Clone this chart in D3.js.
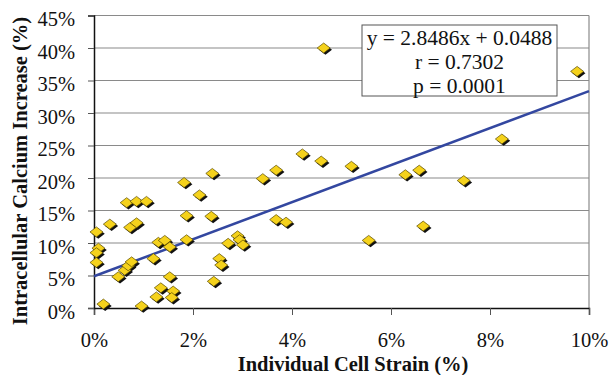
<!DOCTYPE html>
<html><head><meta charset="utf-8">
<script src="https://cdn.jsdelivr.net/npm/d3@7"></script>
<style>body{margin:0;background:#fff}svg{display:block}</style>
</head><body>
<svg id="c" width="611" height="375"></svg>
<script>
// strain (%) and calcium increase (%)
const strain = [0.05,0.32,0.66,0.86,1.06,0.73,0.86,0.09,0.05,0.05,0.19,0.96,0.49,0.62,0.69,0.76,1.2,1.30,1.43,1.53,1.53,1.35,1.6,1.26,1.57,1.82,1.87,1.87,2.13,2.39,2.37,2.71,2.9,2.94,3.01,2.53,2.57,2.42,3.41,3.68,4.21,3.68,3.88,4.64,4.59,5.2,6.29,6.57,5.55,6.65,9.76,8.24,7.47];
const calcium = [11.7,12.9,16.2,16.4,16.4,12.4,13.1,9.2,8.5,7.0,0.6,0.3,4.8,5.8,6.5,7.1,7.6,10.1,10.4,9.4,4.8,3.1,2.6,1.7,1.6,19.3,14.2,10.5,17.4,20.7,14.1,9.95,11.1,10.5,9.7,7.6,6.6,4.1,19.9,21.2,23.7,13.6,13.2,40.0,22.6,21.8,20.5,21.2,10.4,12.6,36.4,26.0,19.6];
const slope = 2.8486, intercept = 0.0488;
const xTicks = [0,2,4,6,8,10];
const yTicks = [0,5,10,15,20,25,30,35,40,45];
const statLines = ["y = 2.8486x + 0.0488","r = 0.7302","p = 0.0001"];
const xTitle = "Individual Cell Strain (%)";
const yTitle = "Intracellular Calcium Increase (%)";

const svg = d3.select("#c");
const L=94, R=589, T=15.5, B=308;
const x = d3.scaleLinear().domain([0,10]).range([L,R]);
const y = d3.scaleLinear().domain([0,45]).range([B,T]);
const font = "'Liberation Serif','Times New Roman',serif";

// gridlines
svg.append("g").selectAll("line").data(yTicks.filter(d=>d>0)).join("line")
  .attr("x1",L).attr("x2",R).attr("y1",d=>y(d)).attr("y2",d=>y(d))
  .attr("stroke","#8a8a8a").attr("stroke-width",1.2);
// right border
svg.append("line").attr("x1",R).attr("x2",R).attr("y1",T).attr("y2",B).attr("stroke","#8a8a8a").attr("stroke-width",1.2);

// axes
const xAxis = d3.axisBottom(x).tickValues(xTicks).tickSize(7).tickFormat(d=>d+"%");
const gx = svg.append("g").attr("transform",`translate(0,${B})`).call(xAxis);
gx.select(".domain").attr("stroke","#111").attr("stroke-width",1.5);
gx.selectAll(".tick line").attr("stroke","#555");
gx.selectAll("text").attr("font-family",font).attr("font-size",20.5).attr("fill","#111").attr("dy",0).attr("y",38.5);

const yAxis = d3.axisLeft(y).tickValues(yTicks).tickSize(6).tickFormat(d=>d+"%");
const gy = svg.append("g").attr("transform",`translate(${L},0)`).call(yAxis);
gy.select(".domain").attr("stroke","#111").attr("stroke-width",1.5);
gy.selectAll(".tick line").attr("stroke","#555");
gy.selectAll("text").attr("font-family",font).attr("font-size",20.5).attr("fill","#111").attr("x",-19).attr("dy","0.5em");

// regression line
svg.append("line")
  .attr("x1",x(0)).attr("y1",y((intercept)*100))
  .attr("x2",x(10)).attr("y2",y((slope*0.10+intercept)*100))
  .attr("stroke","#3347a0").attr("stroke-width",2.5);

// points
const pts = d3.range(strain.length).map(i=>({sx:strain[i],cy:calcium[i]}));
const diamond = "M0,-5 L6.5,0 L0,5 L-6.5,0 Z";
const g = svg.append("g");
g.selectAll("path.sh").data(pts).join("path").attr("class","sh")
  .attr("d",diamond).attr("transform",d=>`translate(${x(d.sx)+1.8},${y(d.cy)+1.8})`).attr("fill","#111");
g.selectAll("path.pt").data(pts).join("path").attr("class","pt")
  .attr("d",diamond).attr("transform",d=>`translate(${x(d.sx)},${y(d.cy)})`)
  .attr("fill","#f5d21c").attr("stroke","#5a4a00").attr("stroke-width",0.7);

// stats box
svg.append("rect").attr("x",362).attr("y",25).attr("width",195).attr("height",71)
  .attr("fill","#fff").attr("stroke","#555").attr("stroke-width",1);
svg.append("g").selectAll("text").data(statLines).join("text")
  .attr("x",459.5).attr("y",(d,i)=>44.5+i*24).attr("text-anchor","middle")
  .attr("font-family",font).attr("font-size",21.5).attr("fill","#111").text(d=>d);

// titles
svg.append("text").attr("x",353).attr("y",371).attr("text-anchor","middle")
  .attr("font-family",font).attr("font-weight","bold").attr("font-size",20.5).attr("fill","#111").text(xTitle);
svg.append("text").attr("transform","translate(27,171) rotate(-90)").attr("text-anchor","middle")
  .attr("font-family",font).attr("font-weight","bold").attr("font-size",20.5).attr("fill","#111").text(yTitle);
</script>
</body></html>
